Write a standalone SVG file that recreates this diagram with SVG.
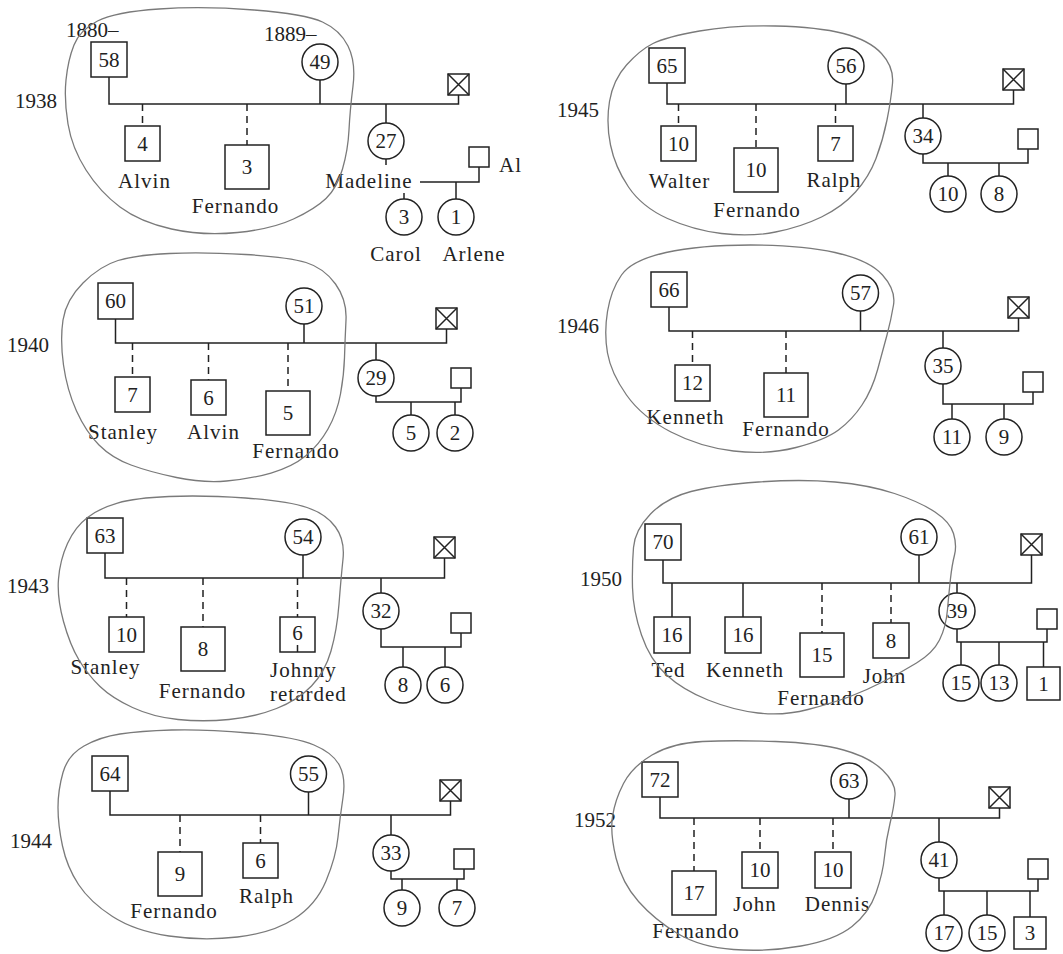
<svg xmlns="http://www.w3.org/2000/svg" xmlns:xlink="http://www.w3.org/1999/xlink" width="1063" height="954" viewBox="0 0 1063 954">
<style>
.n{fill:none;stroke:#222;stroke-width:1.5}
.l{fill:none;stroke:#222;stroke-width:1.5}
.d{fill:none;stroke:#222;stroke-width:1.5;stroke-dasharray:7 5}
.h{fill:none;stroke:#7a7a7a;stroke-width:1.3}
text{font-family:"Liberation Serif","Times New Roman",serif;font-size:21px;fill:#222}
.c{text-anchor:middle}
.nm{letter-spacing:1px}
</style>
<defs>
<g id="xb"><rect class="n" x="0" y="0" width="21" height="21"/><path class="l" d="M0,0 L21,21 M21,0 L0,21"/></g>
</defs>
<rect width="1063" height="954" fill="#fff"/>

<g id="connectors">
<!-- 1938 -->
<path class="l" d="M109,77 V104 H458.5 V95 M320,80 V104 M386,104 V123 M386,159 V165 M420,182 H479 V167 M456,182 V199 M404,193 V199"/>
<path class="d" d="M142.5,104 V126 M247,104 V145"/>
<!-- 1940 -->
<path class="l" d="M115.5,319 V343 H446.5 V329 M304,324 V343 M376,343 V360 M376,396 V402 H461 V388 M411,402 V415 M455,402 V415"/>
<path class="d" d="M132.5,343 V377 M208.5,343 V380 M288,343 V391"/>
<!-- 1943 -->
<path class="l" d="M105,553 V578 H444.5 V558 M303,555 V578 M381,578 V593 M381,629 V647 H461 V633 M403,647 V667 M445,647 V667 M297.5,645 V652"/>
<path class="d" d="M126.5,578 V617 M203,578 V627 M297.5,578 V617"/>
<!-- 1944 -->
<path class="l" d="M110,791 V815 H450.5 V801 M308.5,792 V815 M391,815 V835 M391,871 V879 H464 V869 M402,879 V890 M457,879 V890"/>
<path class="d" d="M180,815 V852 M260.5,815 V843"/>
<!-- 1945 -->
<path class="l" d="M667,83 V104 H1013.5 V90 M846,84 V104 M923,104 V118 M923,154 V163 H1028 V149 M948,163 V176 M999,163 V176"/>
<path class="d" d="M678.5,104 V126 M756,104 V148 M835.5,104 V126"/>
<!-- 1946 -->
<path class="l" d="M669,307 V331 H1018.5 V318 M860.5,311 V331 M943,331 V348 M943,384 V404 H1033 V392 M952,404 V419 M1004,404 V419"/>
<path class="d" d="M692.5,331 V365 M786,331 V373"/>
<!-- 1950 -->
<path class="l" d="M663,560 V583 H1031.5 V555 M919,555 V583 M672,583 V617 M743,583 V617 M957,583 V593 M957,629 V642 H1047 V629 M961,642 V665 M999,642 V665 M1043.5,642 V667"/>
<path class="d" d="M822,583 V633 M891,583 V623"/>
<!-- 1952 -->
<path class="l" d="M660,797 V818 H999.5 V808 M849,799 V818 M939,818 V842 M939,878 V891 H1038 V879 M944,891 V915 M987,891 V915 M1030,891 V917"/>
<path class="d" d="M694,818 V871 M760,818 V852 M833,818 V852"/>
</g>

<!-- ===== 1938 ===== -->
<g id="p1938">
<text x="15" y="108">1938</text>
<text x="66" y="37">1880–</text>
<text x="264" y="41">1889–</text>
<g id="n1938-father"><rect class="n" x="91" y="42" width="36" height="35"/><text class="c" x="109" y="66.5">58</text></g>
<g id="n1938-mother"><circle class="n" cx="320" cy="62" r="18"/><text class="c" x="320" y="69">49</text></g>
<g id="n1938-x"><use xlink:href="#xb" x="448" y="74"/></g>
<g id="n1938-alvin"><rect class="n" x="125" y="126" width="35" height="35"/><text class="c" x="142.5" y="150.5">4</text><text class="c nm" x="144.5" y="188">Alvin</text></g>
<g id="n1938-fernando"><rect class="n" x="225" y="145" width="44" height="44"/><text class="c" x="247" y="174">3</text><text class="c nm" x="235.5" y="213">Fernando</text></g>
<g id="n1938-madeline"><circle class="n" cx="386" cy="141" r="18"/><text class="c" x="386" y="148">27</text><text class="c nm" x="369" y="188">Madeline</text></g>
<g id="n1938-al"><rect class="n" x="469" y="147" width="20" height="20"/><text class="nm" x="499" y="172">Al</text></g>
<g id="n1938-carol"><circle class="n" cx="404" cy="217" r="18"/><text class="c" x="404" y="224">3</text><text class="c nm" x="396" y="261">Carol</text></g>
<g id="n1938-arlene"><circle class="n" cx="456" cy="217" r="18"/><text class="c" x="456" y="224">1</text><text class="c nm" x="474" y="261">Arlene</text></g>
</g>

<!-- ===== 1940 ===== -->
<g id="p1940">
<text x="7" y="352">1940</text>
<g id="n1940-father"><rect class="n" x="98" y="283" width="35" height="36"/><text class="c" x="115.5" y="308">60</text></g>
<g id="n1940-mother"><circle class="n" cx="304" cy="306" r="18"/><text class="c" x="304" y="313">51</text></g>
<g id="n1940-x"><use xlink:href="#xb" x="436" y="308"/></g>
<g id="n1940-stanley"><rect class="n" x="115" y="377" width="35" height="35"/><text class="c" x="132.5" y="401.5">7</text><text class="c nm" x="123" y="439">Stanley</text></g>
<g id="n1940-alvin"><rect class="n" x="191" y="380" width="35" height="35"/><text class="c" x="208.5" y="404.5">6</text><text class="c nm" x="213.5" y="439">Alvin</text></g>
<g id="n1940-fernando"><rect class="n" x="266" y="391" width="44" height="44"/><text class="c" x="288" y="420">5</text><text class="c nm" x="296" y="458">Fernando</text></g>
<g id="n1940-madeline"><circle class="n" cx="376" cy="378" r="18"/><text class="c" x="376" y="385">29</text></g>
<g id="n1940-al"><rect class="n" x="451" y="368" width="20" height="20"/></g>
<g id="n1940-carol"><circle class="n" cx="411" cy="433" r="18"/><text class="c" x="411" y="440">5</text></g>
<g id="n1940-arlene"><circle class="n" cx="455" cy="433" r="18"/><text class="c" x="455" y="440">2</text></g>
</g>

<!-- ===== 1943 ===== -->
<g id="p1943">
<text x="7" y="593">1943</text>
<g id="n1943-father"><rect class="n" x="87" y="518" width="36" height="35"/><text class="c" x="105" y="542.5">63</text></g>
<g id="n1943-mother"><circle class="n" cx="303" cy="537" r="18"/><text class="c" x="303" y="544">54</text></g>
<g id="n1943-x"><use xlink:href="#xb" x="434" y="537"/></g>
<g id="n1943-stanley"><rect class="n" x="109" y="617" width="35" height="35"/><text class="c" x="126.5" y="641.5">10</text><text class="c nm" x="105.5" y="674">Stanley</text></g>
<g id="n1943-fernando"><rect class="n" x="181" y="627" width="44" height="44"/><text class="c" x="203" y="656">8</text><text class="c nm" x="202.5" y="698">Fernando</text></g>
<g id="n1943-johnny"><rect class="n" x="280" y="617" width="35" height="35"/><text class="c" x="297.5" y="640">6</text><text class="nm" x="270" y="677">Johnny</text><text class="nm" x="270" y="701">retarded</text></g>
<g id="n1943-madeline"><circle class="n" cx="381" cy="611" r="18"/><text class="c" x="381" y="618">32</text></g>
<g id="n1943-al"><rect class="n" x="451" y="613" width="20" height="20"/></g>
<g id="n1943-carol"><circle class="n" cx="403" cy="685" r="18"/><text class="c" x="403" y="692">8</text></g>
<g id="n1943-arlene"><circle class="n" cx="445" cy="685" r="18"/><text class="c" x="445" y="692">6</text></g>
</g>

<!-- ===== 1944 ===== -->
<g id="p1944">
<text x="10" y="848">1944</text>
<g id="n1944-father"><rect class="n" x="92" y="756" width="36" height="35"/><text class="c" x="110" y="780.5">64</text></g>
<g id="n1944-mother"><circle class="n" cx="308.5" cy="774" r="18"/><text class="c" x="308.5" y="781">55</text></g>
<g id="n1944-x"><use xlink:href="#xb" x="440" y="780"/></g>
<g id="n1944-fernando"><rect class="n" x="158" y="852" width="44" height="44"/><text class="c" x="180" y="881">9</text><text class="c nm" x="174" y="918">Fernando</text></g>
<g id="n1944-ralph"><rect class="n" x="243" y="843" width="35" height="35"/><text class="c" x="260.5" y="867.5">6</text><text class="c nm" x="266.5" y="903">Ralph</text></g>
<g id="n1944-madeline"><circle class="n" cx="391" cy="853" r="18"/><text class="c" x="391" y="860">33</text></g>
<g id="n1944-al"><rect class="n" x="454" y="849" width="20" height="20"/></g>
<g id="n1944-carol"><circle class="n" cx="402" cy="908" r="18"/><text class="c" x="402" y="915">9</text></g>
<g id="n1944-arlene"><circle class="n" cx="457" cy="908" r="18"/><text class="c" x="457" y="915">7</text></g>
</g>

<!-- ===== 1945 ===== -->
<g id="p1945">
<text x="557" y="117">1945</text>
<g id="n1945-father"><rect class="n" x="649" y="48" width="36" height="35"/><text class="c" x="667" y="72.5">65</text></g>
<g id="n1945-mother"><circle class="n" cx="846" cy="66" r="18"/><text class="c" x="846" y="73">56</text></g>
<g id="n1945-x"><use xlink:href="#xb" x="1003" y="69"/></g>
<g id="n1945-walter"><rect class="n" x="661" y="126" width="35" height="35"/><text class="c" x="678.5" y="150.5">10</text><text class="c nm" x="679.5" y="188">Walter</text></g>
<g id="n1945-fernando"><rect class="n" x="734" y="148" width="44" height="44"/><text class="c" x="756" y="177">10</text><text class="c nm" x="757" y="217">Fernando</text></g>
<g id="n1945-ralph"><rect class="n" x="818" y="126" width="35" height="35"/><text class="c" x="835.5" y="150.5">7</text><text class="c nm" x="834" y="187">Ralph</text></g>
<g id="n1945-madeline"><circle class="n" cx="923" cy="136" r="18"/><text class="c" x="923" y="143">34</text></g>
<g id="n1945-al"><rect class="n" x="1018" y="129" width="20" height="20"/></g>
<g id="n1945-carol"><circle class="n" cx="948" cy="194" r="18"/><text class="c" x="948" y="201">10</text></g>
<g id="n1945-arlene"><circle class="n" cx="999" cy="194" r="18"/><text class="c" x="999" y="201">8</text></g>
</g>

<!-- ===== 1946 ===== -->
<g id="p1946">
<text x="557" y="333">1946</text>
<g id="n1946-father"><rect class="n" x="651" y="272" width="36" height="35"/><text class="c" x="669" y="296.5">66</text></g>
<g id="n1946-mother"><circle class="n" cx="860.5" cy="293" r="18"/><text class="c" x="860.5" y="300">57</text></g>
<g id="n1946-x"><use xlink:href="#xb" x="1008" y="297"/></g>
<g id="n1946-kenneth"><rect class="n" x="675" y="365" width="35" height="36"/><text class="c" x="692.5" y="390">12</text><text class="c nm" x="685.5" y="424">Kenneth</text></g>
<g id="n1946-fernando"><rect class="n" x="764" y="373" width="44" height="44"/><text class="c" x="786" y="402">11</text><text class="c nm" x="786" y="436">Fernando</text></g>
<g id="n1946-madeline"><circle class="n" cx="943" cy="366" r="18"/><text class="c" x="943" y="373">35</text></g>
<g id="n1946-al"><rect class="n" x="1023" y="372" width="20" height="20"/></g>
<g id="n1946-carol"><circle class="n" cx="952" cy="437" r="18"/><text class="c" x="952" y="444">11</text></g>
<g id="n1946-arlene"><circle class="n" cx="1004" cy="437" r="18"/><text class="c" x="1004" y="444">9</text></g>
</g>

<!-- ===== 1950 ===== -->
<g id="p1950">
<text x="580" y="586">1950</text>
<g id="n1950-father"><rect class="n" x="645" y="524" width="36" height="36"/><text class="c" x="663" y="549">70</text></g>
<g id="n1950-mother"><circle class="n" cx="919" cy="537" r="18"/><text class="c" x="919" y="544">61</text></g>
<g id="n1950-x"><use xlink:href="#xb" x="1021" y="534"/></g>
<g id="n1950-ted"><rect class="n" x="654" y="617" width="36" height="36"/><text class="c" x="672" y="642">16</text><text class="c nm" x="668.5" y="677">Ted</text></g>
<g id="n1950-kenneth"><rect class="n" x="725" y="617" width="36" height="36"/><text class="c" x="743" y="642">16</text><text class="c nm" x="745" y="677">Kenneth</text></g>
<g id="n1950-fernando"><rect class="n" x="800" y="633" width="44" height="44"/><text class="c" x="822" y="662">15</text><text class="c nm" x="821" y="705">Fernando</text></g>
<g id="n1950-john"><rect class="n" x="873" y="623" width="36" height="35"/><text class="c" x="891" y="647.5">8</text><text class="c nm" x="884.5" y="683">John</text></g>
<g id="n1950-madeline"><circle class="n" cx="957" cy="611" r="18"/><text class="c" x="957" y="618">39</text></g>
<g id="n1950-al"><rect class="n" x="1037" y="609" width="20" height="20"/></g>
<g id="n1950-c1"><circle class="n" cx="961" cy="683" r="18"/><text class="c" x="961" y="690">15</text></g>
<g id="n1950-c2"><circle class="n" cx="999" cy="683" r="18"/><text class="c" x="999" y="690">13</text></g>
<g id="n1950-c3"><rect class="n" x="1027" y="667" width="33" height="33"/><text class="c" x="1043.5" y="690.5">1</text></g>
</g>

<!-- ===== 1952 ===== -->
<g id="p1952">
<text x="574" y="827">1952</text>
<g id="n1952-father"><rect class="n" x="642" y="762" width="36" height="35"/><text class="c" x="660" y="786.5">72</text></g>
<g id="n1952-mother"><circle class="n" cx="849" cy="781" r="18"/><text class="c" x="849" y="788">63</text></g>
<g id="n1952-x"><use xlink:href="#xb" x="989" y="787"/></g>
<g id="n1952-fernando"><rect class="n" x="672" y="871" width="44" height="44"/><text class="c" x="694" y="900">17</text><text class="c nm" x="696" y="938">Fernando</text></g>
<g id="n1952-john"><rect class="n" x="742" y="852" width="36" height="36"/><text class="c" x="760" y="877">10</text><text class="c nm" x="755" y="911">John</text></g>
<g id="n1952-dennis"><rect class="n" x="815" y="852" width="36" height="36"/><text class="c" x="833" y="877">10</text><text class="c nm" x="837.5" y="911">Dennis</text></g>
<g id="n1952-madeline"><circle class="n" cx="939" cy="860" r="18"/><text class="c" x="939" y="867">41</text></g>
<g id="n1952-al"><rect class="n" x="1028" y="859" width="20" height="20"/></g>
<g id="n1952-c1"><circle class="n" cx="944" cy="933" r="18"/><text class="c" x="944" y="940">17</text></g>
<g id="n1952-c2"><circle class="n" cx="987" cy="933" r="18"/><text class="c" x="987" y="940">15</text></g>
<g id="n1952-c3"><rect class="n" x="1014" y="917" width="32" height="32"/><text class="c" x="1030" y="940">3</text></g>
</g>

<g id="hulls">
<path class="h" d="M66,80 Q68,60 74,45 Q80,30 97.5,21 Q115,12 159,9 Q203,6 254,10 Q305,14 322.5,22 Q340,30 348,46 Q356,62 353,86 Q350,110 349,130 Q348,150 342.5,169 Q337,188 326,198.5 Q315,209 293.5,219 Q272,229 237.5,232.5 Q203,236 171.5,229 Q140,222 120,207 Q100,192 86,170 Q72,148 68,124 Q64,100 66,80 Z"/>
<path class="h" d="M63,320 Q66,300 83,283 Q100,266 118,260.5 Q136,255 169.5,253.5 Q203,252 245.5,254.5 Q288,257 306,262.5 Q324,268 335.5,284 Q347,300 346,320 Q345,340 344.5,357.5 Q344,375 340.5,394 Q337,413 328,429 Q319,445 305.5,456 Q292,467 271,473 Q250,479 226.5,481 Q203,483 176.5,477.5 Q150,472 131,465 Q112,458 99,445 Q86,432 76.5,411 Q67,390 63.5,365 Q60,340 63,320 Z"/>
<path class="h" d="M58.5,579 Q60,560 67.5,543.5 Q75,527 87.5,517.5 Q100,508 117.5,503 Q135,498 169,496.5 Q203,495 245.5,498 Q288,501 307,507.5 Q326,514 335.5,527 Q345,540 343,559 Q341,578 339,604 Q337,630 331,651 Q325,672 311.5,686 Q298,700 276.5,708.5 Q255,717 229,719.5 Q203,722 178,719.5 Q153,717 132.5,707.5 Q112,698 100,686.5 Q88,675 79,660 Q70,645 63.5,621.5 Q57,598 58.5,579 Z"/>
<path class="h" d="M58,807.5 Q58,790 63,772.5 Q68,755 84,746 Q100,737 120,734 Q140,731 171.5,730 Q203,729 249,733 Q295,737 314,745 Q333,753 339.5,765.5 Q346,778 343,797.5 Q340,817 338,837 Q336,857 326,881 Q316,905 294,919 Q272,933 237.5,937 Q203,941 169,936 Q135,931 112.5,916.5 Q90,902 78.5,884.5 Q67,867 62.5,846 Q58,825 58,807.5 Z"/>
<path class="h" d="M609.5,101.5 Q613,80 626.5,65 Q640,50 653,43.5 Q666,37 699.5,31 Q733,25 775.5,26 Q818,27 843.5,33.5 Q869,40 881.5,53.5 Q894,67 892.5,83.5 Q891,100 887,120 Q883,140 876,158.5 Q869,177 855.5,192 Q842,207 821.5,217 Q801,227 775.5,232 Q750,237 721.5,233.5 Q693,230 667.5,218.5 Q642,207 628.5,187 Q615,167 610.5,145 Q606,123 609.5,101.5 Z"/>
<path class="h" d="M607.5,311.5 Q611,290 621.5,275 Q632,260 666,252.5 Q700,245 750.5,245 Q801,245 835,252.5 Q869,260 882.5,275 Q896,290 893.5,305 Q891,320 887,335 Q883,350 877.5,370 Q872,390 862,405 Q852,420 838.5,430 Q825,440 796,447.5 Q767,455 733.5,451 Q700,447 671,432 Q642,417 626.5,395 Q611,373 607.5,353 Q604,333 607.5,311.5 Z"/>
<path class="h" d="M632.5,587.5 Q632,565 633.5,547.5 Q635,530 650.5,514 Q666,498 691,491.5 Q716,485 758.5,482 Q801,479 835,482 Q869,485 894.5,493.5 Q920,502 935,512 Q950,522 953.5,533.5 Q957,545 954.5,555 Q952,565 950.5,578.5 Q949,592 947.5,609.5 Q946,627 939.5,640 Q933,653 916.5,663 Q900,673 883.5,681.5 Q867,690 850,696.5 Q833,703 808,709.5 Q783,716 758,713 Q733,710 708,700 Q683,690 666.5,675 Q650,660 641.5,635 Q633,610 632.5,587.5 Z"/>
<path class="h" d="M612.5,816.5 Q615,800 623.5,783.5 Q632,767 652,755 Q672,743 702.5,741.5 Q733,740 775.5,741.5 Q818,743 843.5,750 Q869,757 882.5,770 Q896,783 895,795 Q894,807 890,823.5 Q886,840 884.5,856.5 Q883,873 876,893 Q869,913 852,926.5 Q835,940 801,946 Q767,952 733.5,949.5 Q700,947 677.5,933.5 Q655,920 638.5,901.5 Q622,883 616,858 Q610,833 612.5,816.5 Z"/>
</g>
</svg>
